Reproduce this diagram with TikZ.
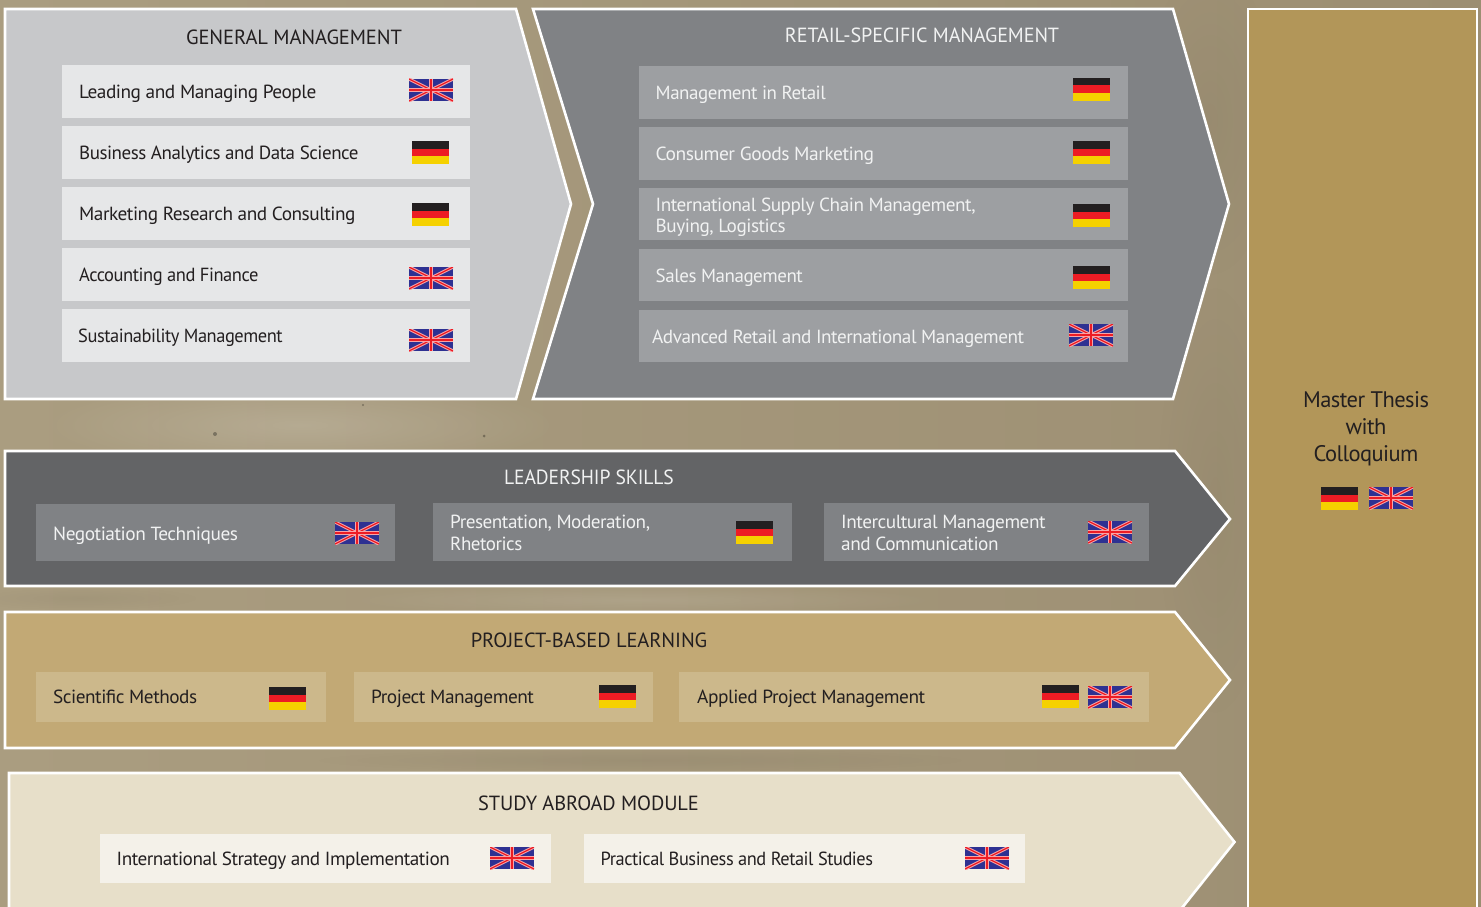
\documentclass[tikz,border=0pt]{standalone}
\usepackage{fontspec}
\usepackage{graphicx}
\usetikzlibrary{fadings}
\setmainfont[LetterSpace=-2.5]{PT Sans}
\newfontfamily\headfont[LetterSpace=-0.5]{PT Sans}
\definecolor{bgA}{HTML}{AA9D80}
\definecolor{bgB}{HTML}{9C8E72}
\definecolor{gmF}{HTML}{C7C8CA}
\definecolor{gmB}{HTML}{E6E7E8}
\definecolor{rtF}{HTML}{808285}
\definecolor{rtB}{HTML}{9D9FA2}
\definecolor{lsF}{HTML}{636466}
\definecolor{lsB}{HTML}{808285}
\definecolor{pbF}{HTML}{C2A975}
\definecolor{pbB}{HTML}{CCB88B}
\definecolor{saF}{HTML}{E7DFC9}
\definecolor{saB}{HTML}{F4F1E9}
\definecolor{thF}{HTML}{B29659}
\definecolor{ink}{HTML}{231F20}
\definecolor{pale}{HTML}{F1F2F2}
\definecolor{ukblue}{HTML}{2E3192}
\definecolor{ukred}{HTML}{ED1C24}
\definecolor{deyel}{HTML}{F5D100}
\tikzfading[name=softblob,inner color=transparent!55,outer color=transparent!100]
\tikzset{
  x=1pt,y=-1pt,
  panel/.style={draw=white,line width=2.6pt,line join=miter},
  itembox/.style={inner sep=0pt,outer sep=0pt,anchor=north west},
  itemtxt/.style={inner sep=0pt,anchor=base west,yshift=-6.6pt,font=\fontsize{19}{21}\selectfont},
  twotxt/.style={inner sep=0pt,anchor=west,align=left,font=\fontsize{19}{21}\selectfont},
  headtxt/.style={inner sep=0pt,anchor=center,font=\headfont\fontsize{20.5}{22}\selectfont},
  blobdark/.style={fill=black!70!bgB,path fading=softblob},
  bloblight/.style={fill=white!60!bgA,path fading=softblob},
  deflag/.pic={
    \fill[ink] (0,0) rectangle (37,7.5);
    \fill[ukred] (0,7.5) rectangle (37,15.3);
    \fill[deyel] (0,15.3) rectangle (37,23);
  },
  ukflag/.pic={
    \begin{scope}
    \clip (0,0) rectangle (44,22);
    \fill[ukblue] (0,0) rectangle (44,22);
    \draw[white!60!ukred,line width=3.2pt] (0,0) -- (44,22) (0,22) -- (44,0);
    \draw[ukred,line width=1.2pt] (0,0) -- (44,22) (0,22) -- (44,0);
    \draw[white!60!ukred,line width=4.6pt] (22,0) -- (22,22) (0,11) -- (44,11);
    \draw[ukred,line width=2.6pt] (22,0) -- (22,22) (0,11) -- (44,11);
    \end{scope}
  }
}
% name, x1, y1, x2, y2, fill
\newcommand{\itembox}[6]{\node[itembox,fill=#6,minimum width=#4pt-#2pt,minimum height=#5pt-#3pt] (#1) at (#2,#3) {};}
\newcommand{\sx}[2]{\scalebox{#1}[1]{#2}}
\begin{document}
\begin{tikzpicture}
\useasboundingbox (0,0) rectangle (1481,907);
\clip (0,0) rectangle (1481,907);
% background
\shade[left color=bgA,right color=bgB] (0,0) rectangle (1481,907);
\fill[bloblight,opacity=.6] (300,425) ellipse (260 and 45);
\fill[blobdark,opacity=.12] (1215,500) ellipse (60 and 220);
\fill[blobdark,opacity=.12] (1210,120) ellipse (70 and 160);
\fill[bloblight,opacity=.4] (640,600) ellipse (300 and 16);
\fill[blobdark,opacity=.15] (640,760) ellipse (330 and 12);
\fill[blobdark,opacity=.12] (80,598) ellipse (120 and 12);
\fill[black,opacity=.3] (484,436) circle (1.5) (215,434) circle (2) (363,405) circle (1.2);
% panels
\draw[panel,fill=gmF] (5,9) -- (516,9) -- (571,204) -- (516,399) -- (5,399) -- cycle;
\draw[panel,fill=rtF] (533,9) -- (1173,9) -- (1229,204) -- (1173,399) -- (533,399) -- (593,204) -- cycle;
\draw[panel,fill=lsF] (5,451) -- (1175,451) -- (1230,519) -- (1175,586) -- (5,586) -- cycle;
\draw[panel,fill=pbF] (5,612) -- (1175,612) -- (1230,680) -- (1175,748) -- (5,748) -- cycle;
\draw[panel,fill=saF] (9,773) -- (1179.5,773) -- (1234.5,842) -- (1179.5,911) -- (9,911) -- cycle;
\draw[panel,fill=thF] (1248,9) rectangle (1477,920);
% headings
\node[headtxt,text=ink] (hgm) at (294,37.5) {GENERAL MANAGEMENT};
\node[headtxt,text=pale] (hrt) at (922,35.5) {\sx{.982}{RETAIL-SPECIFIC MANAGEMENT}};
\node[headtxt,text=pale] (hls) at (589,477.5) {\sx{.955}{LEADERSHIP SKILLS}};
\node[headtxt,text=ink] (hpb) at (589,640.5) {PROJECT-BASED LEARNING};
\node[headtxt,text=ink] (hsa) at (588.5,803.5) {\sx{.995}{STUDY ABROAD MODULE}};
% general management
\itembox{g1}{62}{65}{470}{118}{gmB}
\itembox{g2}{62}{126}{470}{179}{gmB}
\itembox{g3}{62}{187}{470}{240}{gmB}
\itembox{g4}{62}{248}{470}{301}{gmB}
\itembox{g5}{62}{309}{470}{362}{gmB}
\node[itemtxt,text=ink] (tg1) at (79,92) {\sx{1.017}{Leading and Managing People}};
\node[itemtxt,text=ink] (tg2) at (79,153) {Business Analytics and Data Science};
\node[itemtxt,text=ink] (tg3) at (79,214) {\sx{1.015}{Marketing Research and Consulting}};
\node[itemtxt,text=ink] (tg4) at (79,275) {\sx{.973}{Accounting and Finance}};
\node[itemtxt,text=ink] (tg5) at (78,336) {\sx{.971}{Sustainability Management}};
\pic at (409,79) {ukflag};
\pic at (412,141) {deflag};
\pic at (412,203) {deflag};
\pic at (409,267) {ukflag};
\pic at (409,329) {ukflag};
% retail
\itembox{r1}{639}{66}{1128}{119}{rtB}
\itembox{r2}{639}{127}{1128}{180}{rtB}
\itembox{r3}{639}{188}{1128}{240}{rtB}
\itembox{r4}{639}{249}{1128}{301}{rtB}
\itembox{r5}{639}{310}{1128}{362}{rtB}
\node[itemtxt,text=pale] (tr1) at (655.5,93) {Management in Retail};
\node[itemtxt,text=pale] (tr2) at (655.5,154) {\sx{1.028}{Consumer Goods Marketing}};
\node[twotxt,text=pale] (tr3) at (655.5,217) {\sx{1.012}{International Supply Chain Management,}\\\sx{1.012}{Buying, Logistics}};
\node[itemtxt,text=pale] (tr4) at (655.5,276) {Sales Management};
\node[itemtxt,text=pale] (tr5) at (652,337) {\sx{1.011}{Advanced Retail and International Management}};
\pic at (1073,78) {deflag};
\pic at (1073,141) {deflag};
\pic at (1073,204) {deflag};
\pic at (1073,266) {deflag};
\pic at (1069,324) {ukflag};
% leadership
\itembox{l1}{36}{504}{395}{561}{lsB}
\itembox{l2}{433}{503}{792}{561}{lsB}
\itembox{l3}{824}{503}{1149}{561}{lsB}
\node[itemtxt,text=pale] (tl1) at (53,534) {\sx{1.019}{Negotiation Techniques}};
\node[twotxt,text=pale] (tl2) at (450,533) {\sx{1.01}{Presentation, Moderation,}\\[1pt]Rhetorics};
\node[twotxt,text=pale] (tl3) at (841,533) {\sx{1.015}{Intercultural Management}\\[1pt]\sx{1.015}{and Communication}};
\pic at (335,522) {ukflag};
\pic at (736,521) {deflag};
\pic at (1088,521) {ukflag};
% project
\itembox{p1}{36}{672}{326}{722}{pbB}
\itembox{p2}{354}{672}{653}{722}{pbB}
\itembox{p3}{679}{672}{1149}{722}{pbB}
\node[itemtxt,text=ink] (tp1) at (53,697) {\sx{1.014}{Scientific Methods}};
\node[itemtxt,text=ink] (tp2) at (371,697) {\sx{1.02}{Project Management}};
\node[itemtxt,text=ink] (tp3) at (697,697) {\sx{1.02}{Applied Project Management}};
\pic at (269,687) {deflag};
\pic at (599,685) {deflag};
\pic at (1042,685) {deflag};
\pic at (1088,686) {ukflag};
% study abroad
\itembox{s1}{100}{834}{551}{883}{saB}
\itembox{s2}{584}{834}{1025}{883}{saB}
\node[itemtxt,text=ink] (ts1) at (116.5,859) {\sx{1.01}{International Strategy and Implementation}};
\node[itemtxt,text=ink] (ts2) at (600.5,859) {\sx{.968}{Practical Business and Retail Studies}};
\pic at (490,847) {ukflag};
\pic at (965,847) {ukflag};
% thesis
\node[inner sep=0pt,align=center,text=ink,font=\fontsize{22.5}{27}\selectfont,anchor=north] (th) at (1366,391) {Master Thesis\\with\\Colloquium};
\pic at (1321,487) {deflag};
\pic at (1369,487) {ukflag};
\end{tikzpicture}
\end{document}
